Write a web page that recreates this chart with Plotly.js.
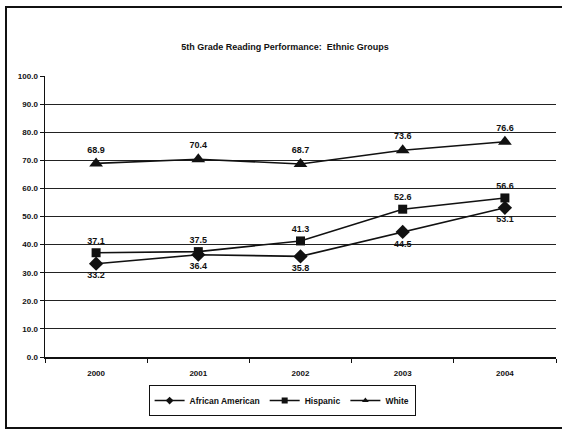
<!DOCTYPE html>
<html>
<head>
<meta charset="utf-8">
<script src="https://cdn.plot.ly/plotly-3.0.1.min.js"></script>
<style>
  html, body { margin: 0; padding: 0; background: #fff; overflow: hidden; width: 562px; height: 431px; }
  #frame { position: absolute; left: 5px; top: 6px; width: 557px; height: 423px; border: 2px solid #111; border-right: none; box-sizing: border-box; }
  #chart { position: absolute; left: 0; top: 0; width: 562px; height: 431px; }
</style>
</head>
<body>
<div id="frame"></div>
<div id="chart"></div>
<script>
// Reading performance by ethnic group, percent
const years = ["2000", "2001", "2002", "2003", "2004"];
const africanAmerican = [33.2, 36.4, 35.8, 44.5, 53.1];
const hispanic = [37.1, 37.5, 41.3, 52.6, 56.6];
const white = [68.9, 70.4, 68.7, 73.6, 76.6];
const seriesNames = ["African American", "Hispanic", "White"];

const font = "Liberation Sans, Arial, sans-serif";
const labelFont = { family: font, size: 9, color: "#111", weight: "bold" };

function series(name, values, symbol, size, pos) {
  return {
    type: "scatter",
    mode: "lines+markers+text",
    name: name,
    x: years,
    y: values,
    text: values.map(v => v.toFixed(1)),
    textposition: pos,
    textfont: labelFont,
    line: { color: "#111", width: 1.6 },
    marker: { symbol: symbol, size: size, color: "#111" },
    cliponaxis: false,
    showlegend: false
  };
}

// small-symbol entries for the legend box
function legendEntry(name, symbol, size) {
  return {
    type: "scatter",
    mode: "lines+markers",
    name: name,
    x: [null],
    y: [null],
    line: { color: "#111", width: 1.5 },
    marker: { symbol: symbol, size: size, color: "#111" },
    showlegend: true
  };
}

const data = [
  series(seriesNames[0], africanAmerican, "diamond", 11, "bottom center"),
  series(seriesNames[1], hispanic, "square", 9, "top center"),
  series(seriesNames[2], white, "triangle-up", 12, "top center"),
  legendEntry(seriesNames[0], "diamond", 6),
  legendEntry(seriesNames[1], "square", 6),
  legendEntry(seriesNames[2], "triangle-up", 6)
];

const layout = {
  width: 562,
  height: 431,
  margin: { l: 45, r: 6, t: 76, b: 74 },
  paper_bgcolor: "rgba(0,0,0,0)",
  plot_bgcolor: "rgba(0,0,0,0)",
  title: {
    text: "5th Grade Reading Performance:  Ethnic Groups",
    font: { family: font, size: 9, color: "#111", weight: "bold" },
    xref: "container", x: 0.507, xanchor: "center",
    yref: "container", y: 0.891, yanchor: "middle"
  },
  xaxis: {
    type: "category",
    range: [-0.5, 4.5],
    showline: true, linecolor: "#111", linewidth: 1.5,
    ticks: "outside", tickson: "boundaries", ticklen: 4, tickcolor: "#111",
    ticklabelstandoff: 8,
    showgrid: false,
    tickfont: { family: font, size: 8, color: "#111", weight: "bold" },
    fixedrange: true
  },
  yaxis: {
    range: [0, 100],
    dtick: 10,
    tickformat: ".1f",
    showline: true, linecolor: "#111", linewidth: 1.5,
    ticks: "outside", ticklen: 4, tickcolor: "#111",
    showgrid: true, gridcolor: "#222", gridwidth: 1,
    zeroline: false,
    tickfont: { family: font, size: 8, color: "#111", weight: "bold" },
    fixedrange: true
  },
  showlegend: true,
  legend: {
    orientation: "h",
    x: 0.464, xanchor: "center",
    y: -0.1, yanchor: "top",
    bordercolor: "#111", borderwidth: 1,
    bgcolor: "#fff",
    font: { family: font, size: 8.5, color: "#111", weight: "bold" },
    itemwidth: 30,
    tracegroupgap: 0
  }
};

Plotly.newPlot("chart", data, layout, { displayModeBar: false, staticPlot: true });
</script>
</body>
</html>
